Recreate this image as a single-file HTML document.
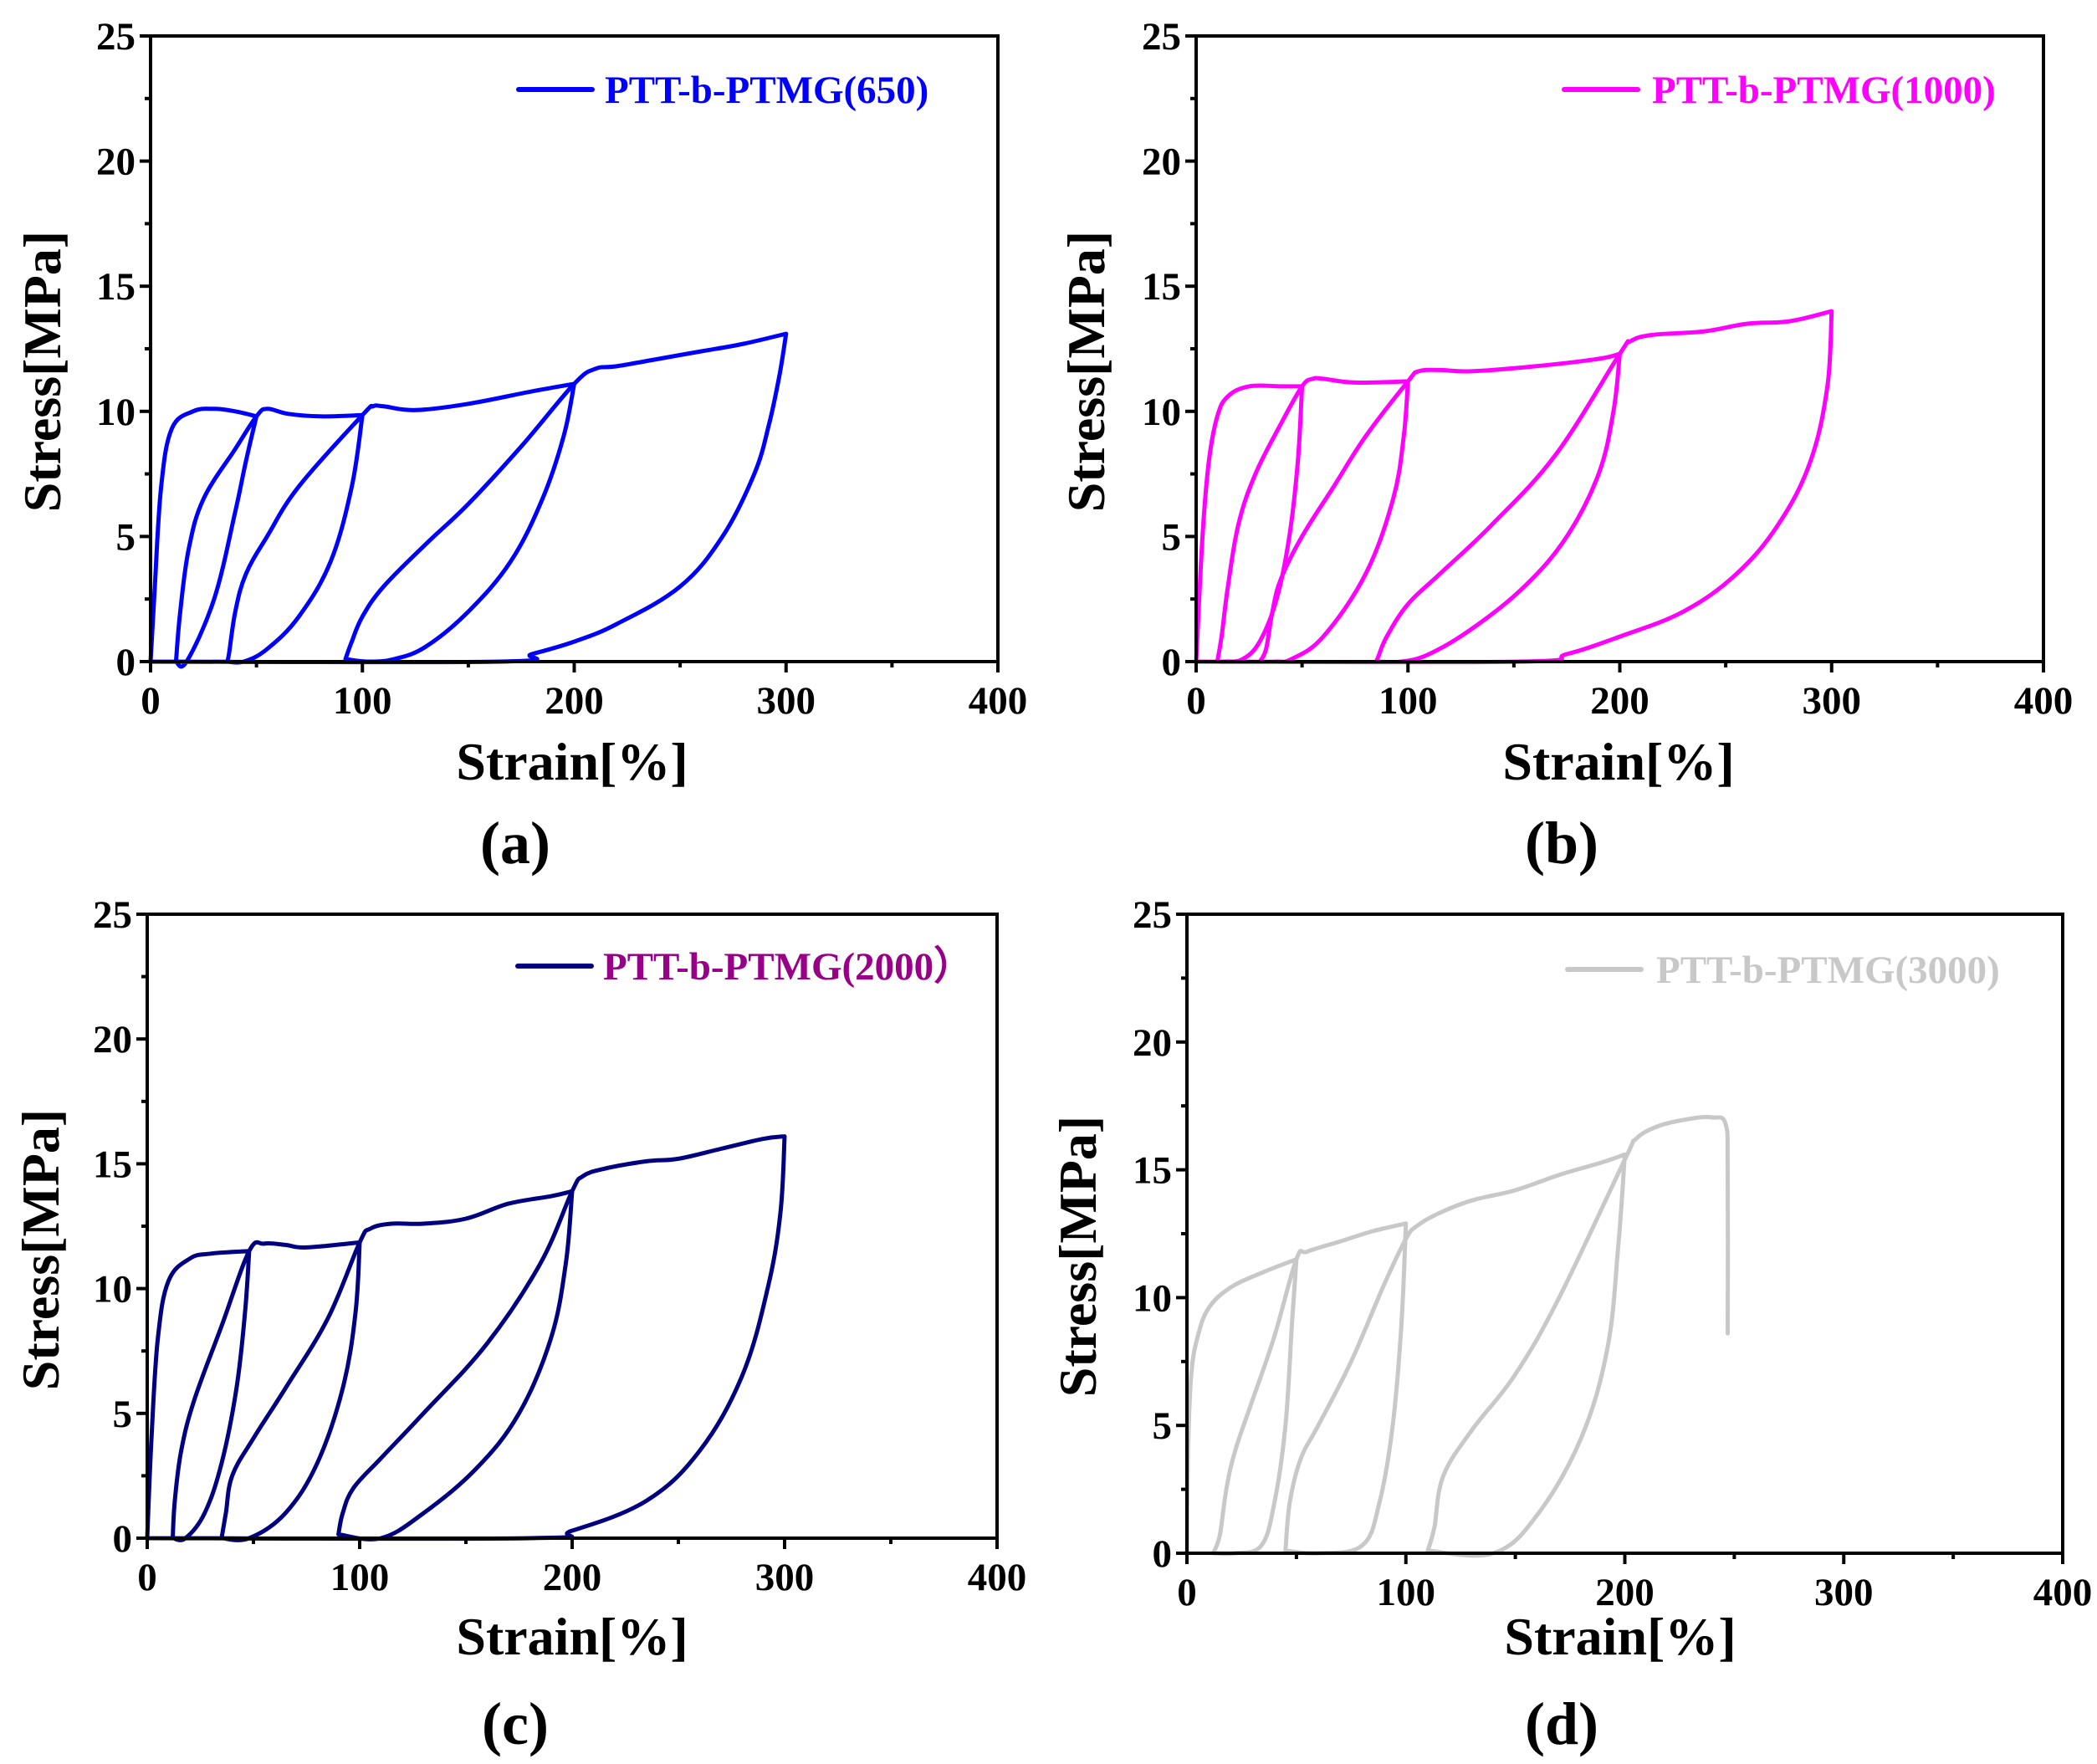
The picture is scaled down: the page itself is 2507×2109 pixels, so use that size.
<!DOCTYPE html>
<html><head><meta charset="utf-8"><style>
html,body{margin:0;padding:0;background:#fff;}
svg{display:block;}
text{font-family:"Liberation Serif",serif;font-weight:bold;}
</style></head><body>
<svg id="fig" width="2507" height="2109" viewBox="0 0 2507 2109" xmlns="http://www.w3.org/2000/svg"></svg>
<script>
// Panel (a) PTT-b-PTMG(650)
const strainA=[0,2,5,10,20,30,40,50, 45,40,30,17, 12,14,18,25,40,50, 55,65,80,100, 95,85,70,55,44, 36,37,40,45,55,70,100, 105,110,125,150,180,200, 195,185,170,150,130,115,103, 92,95,100,110,130,150,175,200, 210,220,240,260,280,300, 297,292,285,270,250,220,200,180,165, 0];
const stressA=[0,3,7,9.3,10,10.1,10,9.8, 8,6,2.5,0, 0,2,4.5,6.5,8.5,9.8, 10.1,9.9,9.8,9.85, 7,4,1.8,0.5,0, 0,0.3,2,3.5,5,7,9.85, 10.2,10.2,10.05,10.3,10.8,11.1, 9,6.5,4,2,0.6,0.1,0, 0.1,0.8,1.8,3,4.7,6.3,8.6,11.1, 11.7,11.8,12.1,12.4,12.7,13.1, 11.5,9.5,7.5,5,3,1.5,0.8,0.3,0, 0];
// Panel (b) PTT-b-PTMG(1000)
const strainB=[0,3,6,10,15,25,40,50, 48,44,38,30,22,14, 10,12,15,20,28,40,50, 55,60,75,100, 98,93,80,60,45,38, 30,33,36,40,50,65,80,100, 105,115,130,160,190,200, 197,190,175,155,130,110,97, 85,86,90,100,115,140,170,200, 205,215,240,260,280,300, 298,290,275,255,230,200,175,153, 0];
const stressB=[0,5,8,9.8,10.6,11,11,11, 8,5,2.5,0.8,0.1,0, 0,1,3,5.5,7.5,9.5,11, 11.3,11.3,11.15,11.2, 9,6.5,3.5,1,0.1,0, 0,0.5,2,3.3,5,7,9,11.2, 11.6,11.65,11.6,11.8,12.1,12.3, 10,7.5,5,3,1.3,0.3,0, 0,0.2,1,2.3,3.5,5.5,8.3,12.3, 12.8,13.05,13.2,13.5,13.6,14, 11,8,5.5,3.5,2,1,0.3,0, 0];
// Panel (c) PTT-b-PTMG(2000)
const strainC=[0,2,5,10,20,30,48, 46,42,35,27,18, 12,13,16,22,35,48, 55,65,75,100, 98,92,80,65,48, 35,37,40,50,65,85,100, 105,115,130,150,170,190,200, 197,190,175,155,130,110, 90,92,97,110,130,160,185,200, 205,215,235,250,270,290,300, 298,292,280,260,235,200,180, 0];
const stressC=[0,4,8,10.3,11.2,11.4,11.5, 9,6,3,1,0, 0,1.5,3.5,5.5,8.5,11.5, 11.8,11.75,11.65,11.85, 9,6,3,1,0, 0,1,2.5,4,6,8.8,11.85, 12.4,12.6,12.6,12.8,13.4,13.7,13.9, 11,8,5,2.8,1,0, 0.15,1,2,3.2,5,7.8,11,13.9, 14.5,14.8,15.1,15.2,15.6,16,16.1, 13,10,6.5,3.5,1.5,0.3,0, 0];
// Panel (d) PTT-b-PTMG(3000)
const strainD=[0,0.5,2,5,10,20,35,50, 48,45,40,34,22, 12,15,18,22,30,40,50, 55,70,85,100, 98,94,88,80,60, 45,47,52,60,75,90,100, 105,115,130,150,170,190,200, 197,192,180,160,140, 110,113,117,130,150,170,200, 205,215,230,240,246,247,247];
const stressD=[0,4,7,8.5,9.6,10.4,11,11.5, 9,5,2,0.3,0, 0,0.7,2.5,4,6,8.5,11.5, 11.8,12.2,12.6,12.9, 9,5,2,0.3,0, 0.1,2,3.7,5,7.5,10.5,12.3, 12.8,13.3,13.8,14.2,14.8,15.3,15.6, 12,8,4.5,1.5,0, 0.1,1,3,4.8,7,10,15.4, 16.2,16.7,17,17.05,16.8,15,8.6];
const xTicks=[0,100,200,300,400];
const yTicks=[0,5,10,15,20,25];

const NS="http://www.w3.org/2000/svg";
const svg=document.getElementById('fig');
function mk(tag,attrs,parent){const e=document.createElementNS(NS,tag);for(const k in attrs)e.setAttribute(k,attrs[k]);(parent||svg).appendChild(e);return e;}
function smoothSeg(pts,first){
 let d=first?'M'+pts[0][0].toFixed(1)+' '+pts[0][1].toFixed(1):'';
 const t=0.18;
 for(let i=0;i<pts.length-1;i++){
  const p0=pts[Math.max(0,i-1)],p1=pts[i],p2=pts[i+1],p3=pts[Math.min(pts.length-1,i+2)];
  const c1=[p1[0]+(p2[0]-p0[0])*t,p1[1]+(p2[1]-p0[1])*t];
  const c2=[p2[0]-(p3[0]-p1[0])*t,p2[1]-(p3[1]-p1[1])*t];
  d+='C'+c1[0].toFixed(1)+' '+c1[1].toFixed(1)+' '+c2[0].toFixed(1)+' '+c2[1].toFixed(1)+' '+p2[0].toFixed(1)+' '+p2[1].toFixed(1);
 }
 return d;
}
function smooth(pts,xs){
 // split at reversals of strain direction
 const breaks=[0];
 for(let i=1;i<xs.length-1;i++){
  const a=xs[i]-xs[i-1],b=xs[i+1]-xs[i];
  if(a*b<0) breaks.push(i);
 }
 breaks.push(pts.length-1);
 let d='';
 for(let k=0;k<breaks.length-1;k++){
  d+=smoothSeg(pts.slice(breaks[k],breaks[k+1]+1),k===0);
 }
 return d;
}

const panels=[
 {id:'a',x0:180,x1:1193,y0:791,y1:43,sx:strainA,sy:stressA,col:'#0000ff',tcol:'#0000ff',label:'PTT-b-PTMG(650)',lx:620,ly:107,tx:723,xt:[684,932],yt:[50,444],pl:[616,1032]},
 {id:'b',x0:1430,x1:2443,y0:791,y1:43,sx:strainB,sy:stressB,col:'#ff00ff',tcol:'#ff00ff',label:'PTT-b-PTMG(1000)',lx:1870,ly:107,tx:1975,xt:[1935,932],yt:[1298,444],pl:[1867,1032]},
 {id:'c',x0:176,x1:1192,y0:1839,y1:1093,sx:strainC,sy:stressC,col:'#000080',tcol:'#990088',label:'PTT-b-PTMG(2000）',lx:619,ly:1155,tx:721,xt:[684,1978],yt:[48,1494],pl:[616,2085]},
 {id:'d',x0:1419,x1:2466,y0:1857,y1:1093,sx:strainD,sy:stressD,col:'#c8c8c8',tcol:'#c8c8c8',label:'PTT-b-PTMG(3000)',lx:1874,ly:1159,tx:1980,xt:[1937,1978],yt:[1288,1502],pl:[1867,2085]}
];

panels.forEach(p=>{
 const g=mk('g',{});
 
 
 const X=v=>p.x0+(v/400)*(p.x1-p.x0);
 const Y=v=>p.y0+(v/25)*(p.y1-p.y0);
 const pts=p.sx.map((v,i)=>[X(v),Y(p.sy[i])]);
 const line=mk('path',{d:smooth(pts,p.sx),fill:'none',stroke:p.col,'stroke-width':5,'stroke-linejoin':'round','stroke-linecap':'round'},g);
 
 
 const fr=mk('rect',{x:p.x0,y:p.y1,width:p.x1-p.x0,height:p.y0-p.y1,fill:'none',stroke:'#000','stroke-width':4},g);
 
 
 yTicks.forEach(t=>{
  mk('line',{x1:p.x0-13,x2:p.x0,y1:Y(t),y2:Y(t),stroke:'#000','stroke-width':4},g);
  if(t<25) mk('line',{x1:p.x0-7,x2:p.x0,y1:Y(t+2.5),y2:Y(t+2.5),stroke:'#000','stroke-width':4},g);
  const tx=mk('text',{x:p.x0-18,y:Y(t)+16,'text-anchor':'end','font-size':47},g);
  tx.textContent=t;
  
  
 });
 xTicks.forEach(t=>{
  mk('line',{x1:X(t),x2:X(t),y1:p.y0,y2:p.y0+13,stroke:'#000','stroke-width':4},g);
  if(t<400) mk('line',{x1:X(t+50),x2:X(t+50),y1:p.y0,y2:p.y0+7,stroke:'#000','stroke-width':4},g);
  const tx=mk('text',{x:X(t),y:p.y0+62,'text-anchor':'middle','font-size':47},g);
  tx.textContent=t;
  
  
 });
 const xt=mk('text',{x:p.xt[0],y:p.xt[1],'text-anchor':'middle','font-size':64},g);
 xt.textContent='Strain[%]';
 
 
 const yt=mk('text',{x:0,y:0,'text-anchor':'middle','font-size':64,transform:'translate('+(p.yt[0]+22)+','+p.yt[1]+') rotate(-90)'},g);
 yt.textContent='Stress[MPa]';
 
 
 const pl=mk('text',{x:p.pl[0],y:p.pl[1],'text-anchor':'middle','font-size':72},g);
 pl.textContent='('+p.id+')';
 
 
 const ll=mk('line',{x1:p.lx,x2:p.lx+88,y1:p.ly,y2:p.ly,stroke:p.col,'stroke-width':6,'stroke-linecap':'round'},g);
 
 
 const lt=mk('text',{x:p.tx,y:p.ly+16,'font-size':47,fill:p.tcol},g);
 lt.textContent=p.label;
 
 
});
</script>
</body></html>
